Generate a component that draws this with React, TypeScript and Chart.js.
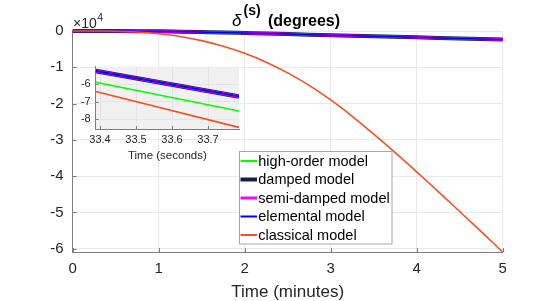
import { useEffect, useRef } from 'react';
import { Chart, registerables } from 'chart.js';

Chart.register(...registerables);

// ---------- data (main plot, values in units of 1e4 degrees) ----------
const timeMinutes = [0, 0.25, 0.5, 0.75, 1, 1.25, 1.5, 1.75, 2, 2.25, 2.5, 2.75, 3, 3.25, 3.5, 3.75, 4, 4.25, 4.5, 4.75, 5];
const classicalMain = [0, 0, -0.005, -0.027, -0.075, -0.15, -0.265, -0.42, -0.615, -0.86, -1.155, -1.5, -1.9, -2.35, -2.84, -3.35, -3.88, -4.425, -4.975, -5.53, -6.09];
const highOrderMain = [0, 0, -0.002, -0.005, -0.01, -0.02, -0.03, -0.04, -0.055, -0.07, -0.085, -0.1, -0.115, -0.13, -0.145, -0.16, -0.175, -0.19, -0.205, -0.22, -0.235];
const dampedMain = [0, 0, -0.002, -0.005, -0.01, -0.02, -0.03, -0.04, -0.055, -0.07, -0.085, -0.1, -0.115, -0.13, -0.145, -0.16, -0.175, -0.19, -0.205, -0.22, -0.235];
const semiDampedMain = [0, 0, -0.002, -0.005, -0.01, -0.02, -0.03, -0.04, -0.055, -0.07, -0.085, -0.1, -0.115, -0.13, -0.145, -0.16, -0.175, -0.19, -0.205, -0.22, -0.235];
const elementalMain = [0, 0, -0.002, -0.005, -0.01, -0.02, -0.03, -0.04, -0.055, -0.07, -0.085, -0.1, -0.115, -0.13, -0.145, -0.16, -0.175, -0.19, -0.205, -0.22, -0.235];
const mainXTicks = [0, 1, 2, 3, 4, 5];
const mainYTicks = [0, -1, -2, -3, -4, -5, -6];
const mainYMin = -6.09;
const mainYMax = 0;

// ---------- data (inset) ----------
const insetTime = [33.388, 33.786];
const highOrderInset = [-5.895, -7.53];
const dampedInset = [-5.25, -6.7];
const semiDampedInset = [-5.25, -6.7];
const elementalInset = [-5.25, -6.7];
const classicalInset = [-6.42, -8.46];
const insetXTicks = [33.4, 33.5, 33.6, 33.7];
const insetYTicks = [-6, -7, -8];
const insetXMin = 33.388;
const insetXMax = 33.786;
const insetYMin = -8.55;
const insetYMax = -5.0;

const seriesLabels = ['high-order model', 'damped model', 'semi-damped model', 'elemental model', 'classical model'];

// ---------- styles ----------
const seriesColors = ['#00ff00', '#14213d', '#ff00ff', '#0000ff', '#f4511e'];
const mainWidths = [1.5, 4, 2.5, 1.5, 1.6];
const insetWidths = [1.6, 4.5, 3, 1.8, 1.6];
const legendWidths = [2, 4, 3, 2, 2];
const drawOrder = [4, 3, 2, 1, 0];
const FONT = '"Liberation Sans", Arial, Helvetica, sans-serif';
const TEXT = '#262626';
const AXIS = '#7d7d7d';

const pts = (xs: number[], ys: number[]) => xs.map((x, i) => ({ x, y: ys[i] }));

const innerTicks = (len: number) => ({
  id: 'innerTicks',
  beforeDatasetsDraw(chart: any) {
    const { ctx, chartArea } = chart;
    const xs = chart.scales.x;
    const ys = chart.scales.y;
    ctx.save();
    ctx.strokeStyle = AXIS;
    ctx.lineWidth = 1;
    ctx.beginPath();
    xs.ticks.forEach((t: any) => {
      const px = Math.round(xs.getPixelForValue(t.value)) + 0.5;
      ctx.moveTo(px, chartArea.bottom);
      ctx.lineTo(px, chartArea.bottom - len);
    });
    ys.ticks.forEach((t: any) => {
      const py = Math.round(ys.getPixelForValue(t.value)) + 0.5;
      ctx.moveTo(chartArea.left, py);
      ctx.lineTo(chartArea.left + len, py);
    });
    ctx.stroke();
    ctx.restore();
  },
});

const mainDecor = {
  id: 'mainDecor',
  afterDraw(chart: any) {
    const ctx = chart.ctx;
    ctx.save();
    // title
    ctx.fillStyle = '#000';
    ctx.textBaseline = 'alphabetic';
    ctx.textAlign = 'left';
    ctx.font = `italic 17px ${FONT}`;
    ctx.fillText('δ', 232, 26);
    ctx.font = `bold 14px ${FONT}`;
    ctx.fillText('(s)', 243.5, 14.5);
    ctx.font = `bold 16px ${FONT}`;
    ctx.fillText('(degrees)', 268, 26);
    // exponent
    ctx.fillStyle = TEXT;
    ctx.font = `14px ${FONT}`;
    ctx.fillText('×10', 73, 28);
    const w = ctx.measureText('×10').width;
    ctx.font = `10.5px ${FONT}`;
    ctx.fillText('4', 73 + w + 0.5, 21);
    // legend
    const x0 = 239.5, y0 = 151.5, bw = 152.5, bh = 92.5;
    ctx.fillStyle = '#ffffff';
    ctx.fillRect(x0, y0, bw, bh);
    ctx.strokeStyle = '#a6a6a6';
    ctx.lineWidth = 1;
    ctx.strokeRect(x0, y0, bw, bh);
    ctx.font = `14.5px ${FONT}`;
    ctx.textBaseline = 'middle';
    chart.data.datasets.forEach((ds: any, i: number) => {
      const y = 161 + i * 18.5;
      ctx.strokeStyle = ds.borderColor;
      ctx.lineWidth = legendWidths[i];
      ctx.beginPath();
      ctx.moveTo(240.5, y);
      ctx.lineTo(257, y);
      ctx.stroke();
      ctx.fillStyle = '#000';
      ctx.fillText(ds.label, 258.3, y + 0.5);
    });
    ctx.restore();
  },
};

const insetBg = {
  id: 'insetBg',
  beforeDraw(chart: any) {
    const { ctx, chartArea } = chart;
    ctx.save();
    ctx.fillStyle = '#f0f0f0';
    ctx.fillRect(chartArea.left, chartArea.top, chartArea.right - chartArea.left, chartArea.bottom - chartArea.top);
    ctx.restore();
  },
};

export default function App() {
  const mainRef = useRef<HTMLCanvasElement>(null);
  const insetRef = useRef<HTMLCanvasElement>(null);

  useEffect(() => {
    document.body.style.margin = '0';
    const mainSeries = [highOrderMain, dampedMain, semiDampedMain, elementalMain, classicalMain];
    const insetSeries = [highOrderInset, dampedInset, semiDampedInset, elementalInset, classicalInset];

    const main = new Chart(mainRef.current as HTMLCanvasElement, {
      type: 'line',
      data: {
        datasets: seriesLabels.map((label, i) => ({
          label,
          data: pts(timeMinutes, mainSeries[i]),
          borderColor: seriesColors[i],
          backgroundColor: seriesColors[i],
          borderWidth: mainWidths[i],
          pointRadius: 0,
          cubicInterpolationMode: 'monotone' as const,
          order: drawOrder[i],
          clip: false as any,
        })),
      },
      options: {
        animation: false,
        responsive: false,
        devicePixelRatio: 1,
        layout: { padding: { top: 31, right: 53.3, left: 0, bottom: 0 } },
        plugins: { legend: { display: false }, tooltip: { enabled: false }, title: { display: false } },
        scales: {
          x: {
            type: 'linear',
            min: 0,
            max: 5,
            afterFit: (s: any) => { s.height = 49; },
            afterBuildTicks: (s: any) => { s.ticks = mainXTicks.map((v) => ({ value: v })); },
            grid: { color: '#e9e9e9', drawTicks: false, lineWidth: 1 },
            border: { display: true, color: AXIS, width: 1 },
            ticks: { padding: 8, color: TEXT, font: { family: FONT, size: 15 }, callback: (v: any) => String(v), maxRotation: 0 },
            title: { display: true, text: 'Time (minutes)', color: TEXT, font: { family: FONT, size: 17, lineHeight: 1 }, padding: { top: 0, bottom: 0 } },
          },
          y: {
            type: 'linear',
            min: mainYMin,
            max: mainYMax,
            afterFit: (s: any) => { s.width = 72.7; },
            afterBuildTicks: (s: any) => { s.ticks = mainYTicks.map((v) => ({ value: v })); },
            grid: { color: '#e9e9e9', drawTicks: false, lineWidth: 1 },
            border: { display: true, color: AXIS, width: 1 },
            ticks: { padding: 9, color: TEXT, font: { family: FONT, size: 15 }, callback: (v: any) => String(v) },
          },
        },
      },
      plugins: [innerTicks(4), mainDecor],
    });

    const inset = new Chart(insetRef.current as HTMLCanvasElement, {
      type: 'line',
      data: {
        datasets: seriesLabels.map((label, i) => ({
          label,
          data: pts(insetTime, insetSeries[i]),
          borderColor: seriesColors[i],
          backgroundColor: seriesColors[i],
          borderWidth: insetWidths[i],
          pointRadius: 0,
          order: drawOrder[i],
        })),
      },
      options: {
        animation: false,
        responsive: false,
        devicePixelRatio: 1,
        layout: { padding: { top: 6.5, right: 16, left: 0, bottom: 0 } },
        plugins: { legend: { display: false }, tooltip: { enabled: false }, title: { display: false } },
        scales: {
          x: {
            type: 'linear',
            min: insetXMin,
            max: insetXMax,
            afterFit: (s: any) => { s.height = 38; },
            afterBuildTicks: (s: any) => { s.ticks = insetXTicks.map((v) => ({ value: v })); },
            grid: { color: '#e4e4e4', drawTicks: false },
            border: { display: true, color: AXIS, width: 1 },
            ticks: { padding: 4.4, color: TEXT, font: { family: FONT, size: 11 }, callback: (v: any) => Number(v).toFixed(1), maxRotation: 0 },
            title: { display: true, text: 'Time (seconds)', color: TEXT, font: { family: FONT, size: 11.5 }, padding: { top: 0, bottom: 4.4 } },
          },
          y: {
            type: 'linear',
            min: insetYMin,
            max: insetYMax,
            afterFit: (s: any) => { s.width = 40.7; },
            afterBuildTicks: (s: any) => { s.ticks = insetYTicks.map((v) => ({ value: v })); },
            grid: { color: '#e4e4e4', drawTicks: false },
            border: { display: true, color: AXIS, width: 1 },
            ticks: { padding: 5, color: TEXT, font: { family: FONT, size: 11 }, callback: (v: any) => String(v) },
          },
        },
      },
      plugins: [insetBg, innerTicks(3)],
    });

    return () => {
      main.destroy();
      inset.destroy();
    };
  }, []);

  return (
    <div style={{ position: 'absolute', left: 0, top: 0, width: 556, height: 301, background: '#fff' }}>
      <canvas ref={mainRef} width={556} height={301} style={{ position: 'absolute', left: 0, top: 0, width: 556, height: 301 }} />
      <canvas ref={insetRef} width={200} height={112} style={{ position: 'absolute', left: 55, top: 55, width: 200, height: 112 }} />
    </div>
  );
}
